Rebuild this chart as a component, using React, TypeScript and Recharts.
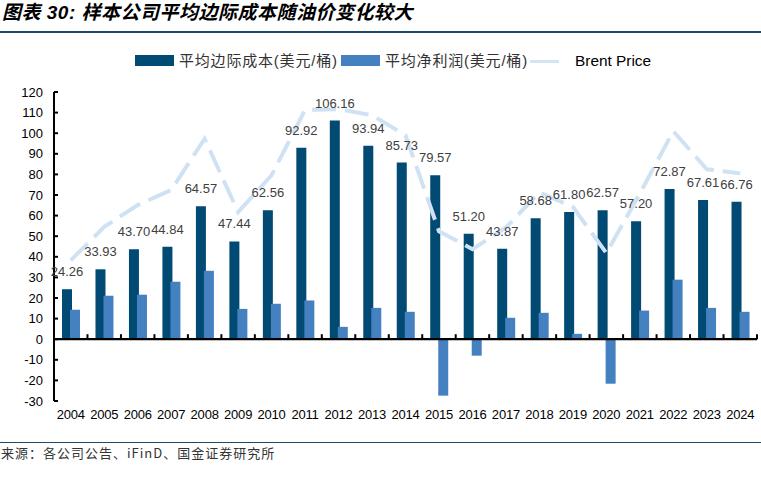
import React from 'react';
import { ComposedChart, Bar, Line, XAxis, YAxis, ReferenceLine, LabelList } from 'recharts';

const years = ['2004', '2005', '2006', '2007', '2008', '2009', '2010', '2011', '2012', '2013', '2014', '2015', '2016', '2017', '2018', '2019', '2020', '2021', '2022', '2023', '2024'];
const marginalCost = [24.26, 33.93, 43.7, 44.84, 64.57, 47.44, 62.56, 92.92, 106.16, 93.94, 85.73, 79.57, 51.2, 43.87, 58.68, 61.8, 62.57, 57.2, 72.87, 67.61, 66.76];
const netProfit = [14.3, 21.1, 21.6, 27.9, 33.2, 14.7, 17.2, 18.8, 6.0, 15.2, 13.3, -27.4, -8.0, 10.4, 12.8, 2.6, -21.6, 13.9, 28.9, 15.2, 13.3];
const brentPrice = [38.3, 54.5, 65.1, 72.4, 97.3, 61.7, 79.6, 111.3, 111.7, 108.7, 99.0, 52.4, 43.7, 54.2, 71.3, 64.2, 41.8, 70.7, 101.0, 82.5, 80.5];
const yTicks = [-30, -20, -10, 0, 10, 20, 30, 40, 50, 60, 70, 80, 90, 100, 110, 120];

const seriesNames = {
  cost: '平均边际成本(美元/桶)',
  profit: '平均净利润(美元/桶)',
  brent: 'Brent Price',
};
const titleText = '图表 30: 样本公司平均边际成本随油价变化较大';
const sourceText = '来源：各公司公告、iFinD、国金证券研究所';

const data = years.map((y, i) => ({
  year: y,
  cost: marginalCost[i],
  profit: netProfit[i],
  brent: brentPrice[i],
}));

const DARK = '#004a73';
const LIGHT = '#4580c0';
const LINE = '#cfe2f4';
const RULE = '#1b4a6b';
const SANS = '"Liberation Sans", Arial, "Noto Sans CJK SC", sans-serif';
const CJK = '"Liberation Sans", "Noto Sans CJK SC", sans-serif';

const ZeroAxis = (p: any) => {
  const { x1, x2, y1 } = p;
  const n = years.length;
  const step = (x2 - x1) / n;
  const ticks = [];
  for (let i = 1; i <= n; i++) {
    const x = x1 + step * i;
    ticks.push(<line key={i} x1={x} x2={x} y1={y1 - 5} y2={y1} stroke="#000" strokeWidth={2} />);
  }
  return (
    <g>
      <line x1={x1} x2={x2} y1={y1} y2={y1} stroke="#000" strokeWidth={2.2} />
      {ticks}
    </g>
  );
};

export default function App() {
  return (
    <div style={{ position: 'absolute', left: 0, top: 0, width: 761, height: 477, background: '#fff', overflow: 'hidden' }}>
      <div style={{ position: 'absolute', left: 2, top: 1, fontFamily: CJK, fontWeight: 'bold', fontStyle: 'italic', fontSize: 19, letterSpacing: 0.5, color: '#000', whiteSpace: 'nowrap', lineHeight: '24px' }}>
        {titleText}
      </div>
      <div style={{ position: 'absolute', left: 0, top: 31, width: 761, height: 2, background: RULE }} />

      {/* legend */}
      <div style={{ position: 'absolute', left: 135, top: 55, width: 39, height: 11, background: DARK }} />
      <div style={{ position: 'absolute', left: 179, top: 50, fontFamily: CJK, fontSize: 15, letterSpacing: 0.8, color: '#333', whiteSpace: 'nowrap', lineHeight: '22px' }}>{seriesNames.cost}</div>
      <div style={{ position: 'absolute', left: 341, top: 55, width: 39, height: 11, background: LIGHT }} />
      <div style={{ position: 'absolute', left: 385, top: 50, fontFamily: CJK, fontSize: 15, letterSpacing: 0.8, color: '#333', whiteSpace: 'nowrap', lineHeight: '22px' }}>{seriesNames.profit}</div>
      <div style={{ position: 'absolute', left: 530, top: 59.5, width: 29, height: 3, background: '#d3e4f5' }} />
      <div style={{ position: 'absolute', left: 575, top: 50, fontFamily: SANS, fontSize: 15.4, color: '#000', whiteSpace: 'nowrap', lineHeight: '22px' }}>{seriesNames.brent}</div>

      <div style={{ position: 'absolute', left: 0, top: 0 }}>
        <ComposedChart width={761} height={477} data={data} margin={{ top: 92, right: 4, bottom: 46, left: 10 }} barSize={10} barGap={-2}>
          <XAxis
            dataKey="year"
            axisLine={false}
            tickLine={false}
            interval={0}
            height={30}
            tickMargin={3}
            tick={{ fontFamily: SANS, fontSize: 13, fill: '#000', letterSpacing: -0.2 }}
          />
          <YAxis
            domain={[-30, 120]}
            ticks={yTicks}
            interval={0}
            width={44}
            allowDataOverflow
            axisLine={{ stroke: '#000', strokeWidth: 2 }}
            tickLine={{ stroke: '#000', strokeWidth: 2 }}
            tickSize={-4}
            tickMargin={15}
            tick={{ fontFamily: SANS, fontSize: 13, fill: '#000' }}
          />
          <Bar dataKey="cost" name={seriesNames.cost} fill={DARK} isAnimationActive={false}>
            <LabelList dataKey="cost" position="top" offset={13} formatter={(v: any) => Number(v).toFixed(2)} style={{ fontFamily: SANS, fontSize: 13, fill: '#404040' }} />
          </Bar>
          <Bar dataKey="profit" name={seriesNames.profit} fill={LIGHT} isAnimationActive={false} />
          <ReferenceLine y={0} shape={ZeroAxis} />
          <Line dataKey="brent" name={seriesNames.brent} type="linear" stroke={LINE} strokeWidth={4} strokeDasharray="24 9" dot={false} activeDot={false} isAnimationActive={false} />
        </ComposedChart>
      </div>

      <div style={{ position: 'absolute', left: 0, top: 441.5, width: 761, height: 1.5, background: RULE }} />
      <div style={{ position: 'absolute', left: 1, top: 444, fontFamily: '"Noto Sans CJK SC", sans-serif', fontSize: 13, letterSpacing: 1, color: '#333', whiteSpace: 'nowrap', lineHeight: '18px' }}>
        {sourceText}
      </div>
    </div>
  );
}
